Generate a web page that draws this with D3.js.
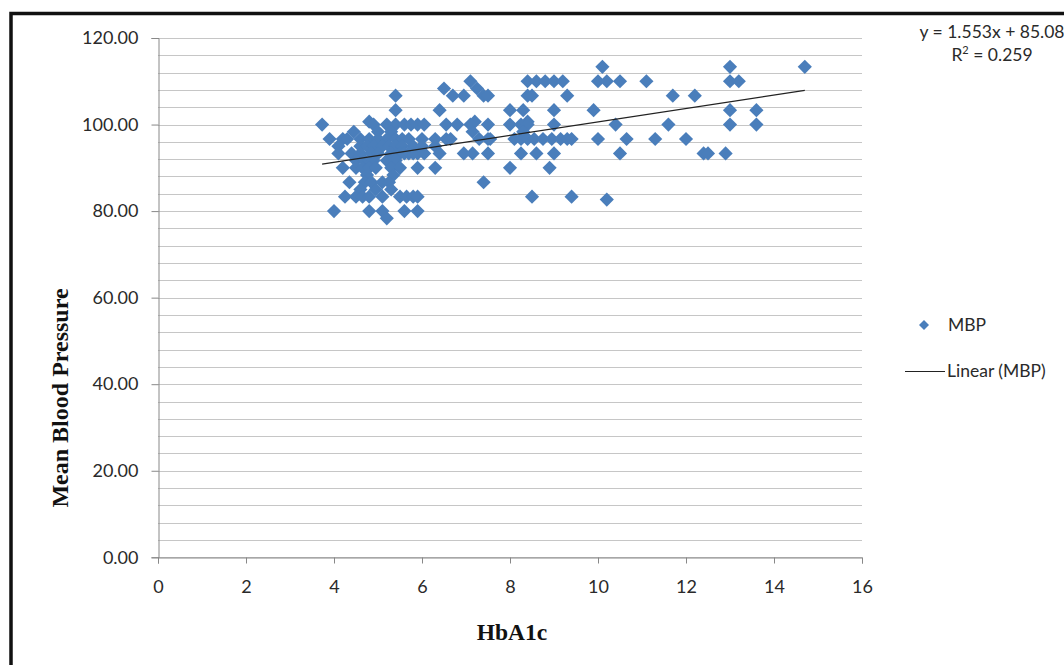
<!DOCTYPE html>
<html>
<head>
<meta charset="utf-8">
<script src="https://cdn.jsdelivr.net/npm/d3@7"></script>
<style>
  html, body { margin: 0; padding: 0; background: #fff; }
  svg { display: block; }
</style>
</head>
<body>
<svg id="chart" width="1064" height="665"></svg>
<script>
// ---- data ----
const mbpLevels = [113.33, 110, 108.33, 106.67, 103.33, 100.67, 100, 98.33, 96.67, 95, 93.33, 91.67, 90, 88.33, 86.67, 85, 83.33, 82.67, 80, 78.33];
const hba1cAt113 = [10.1, 13.0, 14.7];
const hba1cAt110 = [7.1, 8.4, 8.6, 8.8, 9.0, 9.2, 10.0, 10.2, 10.5, 11.1, 13.0, 13.2];
const hba1cAt108 = [6.5, 7.25];
const hba1cAt107 = [5.4, 6.7, 6.95, 7.4, 7.5, 8.4, 8.5, 9.3, 11.7, 12.2];
const hba1cAt103 = [5.4, 6.4, 8.0, 8.3, 9.0, 9.9, 13.0, 13.6];
const hba1cAt101 = [4.8, 7.2, 8.4];
const hba1cAt100 = [3.73, 4.9, 5.2, 5.4, 5.6, 5.75, 5.9, 6.05, 6.55, 6.8, 7.1, 7.5, 8.0, 8.25, 8.4, 9.0, 10.4, 11.6, 13.0, 13.6];
const hba1cAt98 = [4.45, 5.0, 5.3, 7.15, 8.3];
const hba1cAt97 = [3.9, 4.2, 4.3, 4.6, 4.8, 5.0, 5.2, 5.4, 5.55, 5.7, 6.0, 6.3, 6.55, 6.65, 7.3, 7.5, 7.55, 8.1, 8.25, 8.4, 8.55, 8.75, 8.95, 9.15, 9.3, 9.4, 10.0, 10.65, 11.3, 12.0];
const hba1cAt95 = [4.1, 4.6, 4.75, 4.9, 5.1, 5.25, 5.4, 5.55, 5.8, 6.0, 6.3];
const hba1cAt93 = [4.1, 4.4, 4.6, 4.85, 5.0, 5.3, 5.5, 5.6, 5.7, 5.8, 5.9, 6.05, 6.4, 6.95, 7.15, 7.5, 8.25, 8.6, 9.0, 10.5, 12.4, 12.5, 12.9];
const hba1cAt92 = [4.5, 4.7, 4.9, 5.2, 5.4];
const hba1cAt90 = [4.2, 4.5, 4.65, 4.8, 4.95, 5.3, 5.5, 5.9, 6.3, 8.0, 8.9];
const hba1cAt88 = [4.75, 5.35];
const hba1cAt87 = [4.35, 4.7, 4.85, 5.1, 5.25, 7.4];
const hba1cAt85 = [4.6, 4.95, 5.3];
const hba1cAt83 = [4.25, 4.5, 4.65, 4.8, 5.1, 5.5, 5.65, 5.8, 5.9, 8.5, 9.4];
const hba1cAt82 = [10.2];
const hba1cAt80 = [4.0, 4.8, 5.1, 5.6, 5.9];
const hba1cAt78 = [5.2];
const hba1cRows = [hba1cAt113, hba1cAt110, hba1cAt108, hba1cAt107, hba1cAt103, hba1cAt101, hba1cAt100, hba1cAt98, hba1cAt97, hba1cAt95, hba1cAt93, hba1cAt92, hba1cAt90, hba1cAt88, hba1cAt87, hba1cAt85, hba1cAt83, hba1cAt82, hba1cAt80, hba1cAt78];

const xTicks = [0, 2, 4, 6, 8, 10, 12, 14, 16];
const yMajorTicks = [0, 20, 40, 60, 80, 100, 120];
const yGridTicks = d3.range(0, 121, 4);
const trendSlope = 1.553, trendIntercept = 85.08;
const equationText = "y = 1.553x + 85.08";
const seriesName = "MBP";
const trendName = "Linear (MBP)";
const xTitle = "HbA1c";
const yTitle = "Mean Blood Pressure";

// ---- build points ----
const points = [];
mbpLevels.forEach((m, i) => hba1cRows[i].forEach(h => points.push({x: h, y: m})));

const svg = d3.select("#chart");
const W = 1064, H = 665;
const plot = {left: 158, right: 862, top: 38, bottom: 557.3};

const x = d3.scaleLinear().domain([0, 16]).range([plot.left, plot.right]);
const y = d3.scaleLinear().domain([0, 120]).range([plot.bottom, plot.top]);

// frame
svg.append("rect").attr("x", 0).attr("y", 0).attr("width", W).attr("height", H).attr("fill", "#fff");
svg.append("rect").attr("x", 11).attr("y", 13.5).attr("width", W + 20).attr("height", H + 20)
  .attr("fill", "#fff").attr("stroke", "#111").attr("stroke-width", 3.5);

const tickFont = "Lato, 'Open Sans', sans-serif";

// gridlines
svg.append("g").selectAll("line").data(yGridTicks).join("line")
  .attr("x1", plot.left).attr("x2", plot.right)
  .attr("y1", d => Math.round(y(d)) + 0.5).attr("y2", d => Math.round(y(d)) + 0.5)
  .attr("stroke", "#c6c6c6").attr("stroke-width", 1);

// y axis
const yAxis = d3.axisLeft(y).tickValues(yMajorTicks).tickSize(7).tickPadding(13)
  .tickFormat(d3.format(".2f"));
const gy = svg.append("g").attr("transform", `translate(${plot.left + 0.5},0)`).call(yAxis);
gy.select(".domain").attr("stroke", "#888");
gy.selectAll(".tick line").attr("stroke", "#888");
gy.selectAll(".tick text").attr("font-family", tickFont).attr("font-size", 18).attr("fill", "#2a2a2a");

// x axis
const xAxis = d3.axisBottom(x).tickValues(xTicks).tickSize(6).tickPadding(17).tickFormat(d3.format("d"));
const gx = svg.append("g").attr("transform", `translate(0,${Math.round(plot.bottom) + 0.5})`).call(xAxis);
gx.select(".domain").attr("stroke", "#888");
gx.selectAll(".tick line").attr("stroke", "#888");
gx.selectAll(".tick text").attr("font-family", tickFont).attr("font-size", 18).attr("fill", "#2a2a2a");

// points
const diamond = d3.symbol().type(d3.symbolDiamond2).size(128);
svg.append("g").selectAll("path").data(points).join("path")
  .attr("d", diamond)
  .attr("transform", d => `translate(${x(d.x)},${y(d.y)})`)
  .attr("fill", "#4a7ebb");

// trendline
const [xMin, xMax] = d3.extent(points, d => d.x);
svg.append("line")
  .attr("x1", x(xMin)).attr("y1", y(trendSlope * xMin + trendIntercept))
  .attr("x2", x(xMax)).attr("y2", y(trendSlope * xMax + trendIntercept))
  .attr("stroke", "#222").attr("stroke-width", 1.2);

// equation
svg.append("text").attr("x", 992).attr("y", 38).attr("text-anchor", "middle")
  .attr("font-family", tickFont).attr("font-size", 17.5).attr("fill", "#2a2a2a").text(equationText);
const r2 = svg.append("text").attr("x", 992).attr("y", 61).attr("text-anchor", "middle")
  .attr("font-family", tickFont).attr("font-size", 17.5).attr("fill", "#2a2a2a");
r2.append("tspan").text("R");
r2.append("tspan").attr("dy", -7).attr("font-size", 11).text("2");
r2.append("tspan").attr("dy", 7).text(" = 0.259");

// legend
svg.append("path").attr("d", d3.symbol().type(d3.symbolDiamond2).size(64))
  .attr("transform", "translate(924,325)").attr("fill", "#4a7ebb");
svg.append("text").attr("x", 948).attr("y", 331).attr("font-family", tickFont)
  .attr("font-size", 17.5).attr("fill", "#2a2a2a").text(seriesName);
svg.append("line").attr("x1", 905).attr("x2", 945).attr("y1", 371.5).attr("y2", 371.5)
  .attr("stroke", "#222").attr("stroke-width", 1.2);
svg.append("text").attr("x", 947).attr("y", 377).attr("font-family", tickFont)
  .attr("font-size", 17.5).attr("fill", "#2a2a2a").text(trendName);

// axis titles
svg.append("text").attr("x", 512).attr("y", 640).attr("text-anchor", "middle")
  .attr("font-family", "'Liberation Serif', 'Times New Roman', serif").attr("font-weight", "bold")
  .attr("font-size", 23.5).attr("fill", "#111").text(xTitle);
svg.append("text").attr("transform", "translate(68,398) rotate(-90)").attr("text-anchor", "middle")
  .attr("font-family", "'Liberation Serif', 'Times New Roman', serif").attr("font-weight", "bold")
  .attr("font-size", 24).attr("fill", "#111").text(yTitle);
</script>
</body>
</html>
